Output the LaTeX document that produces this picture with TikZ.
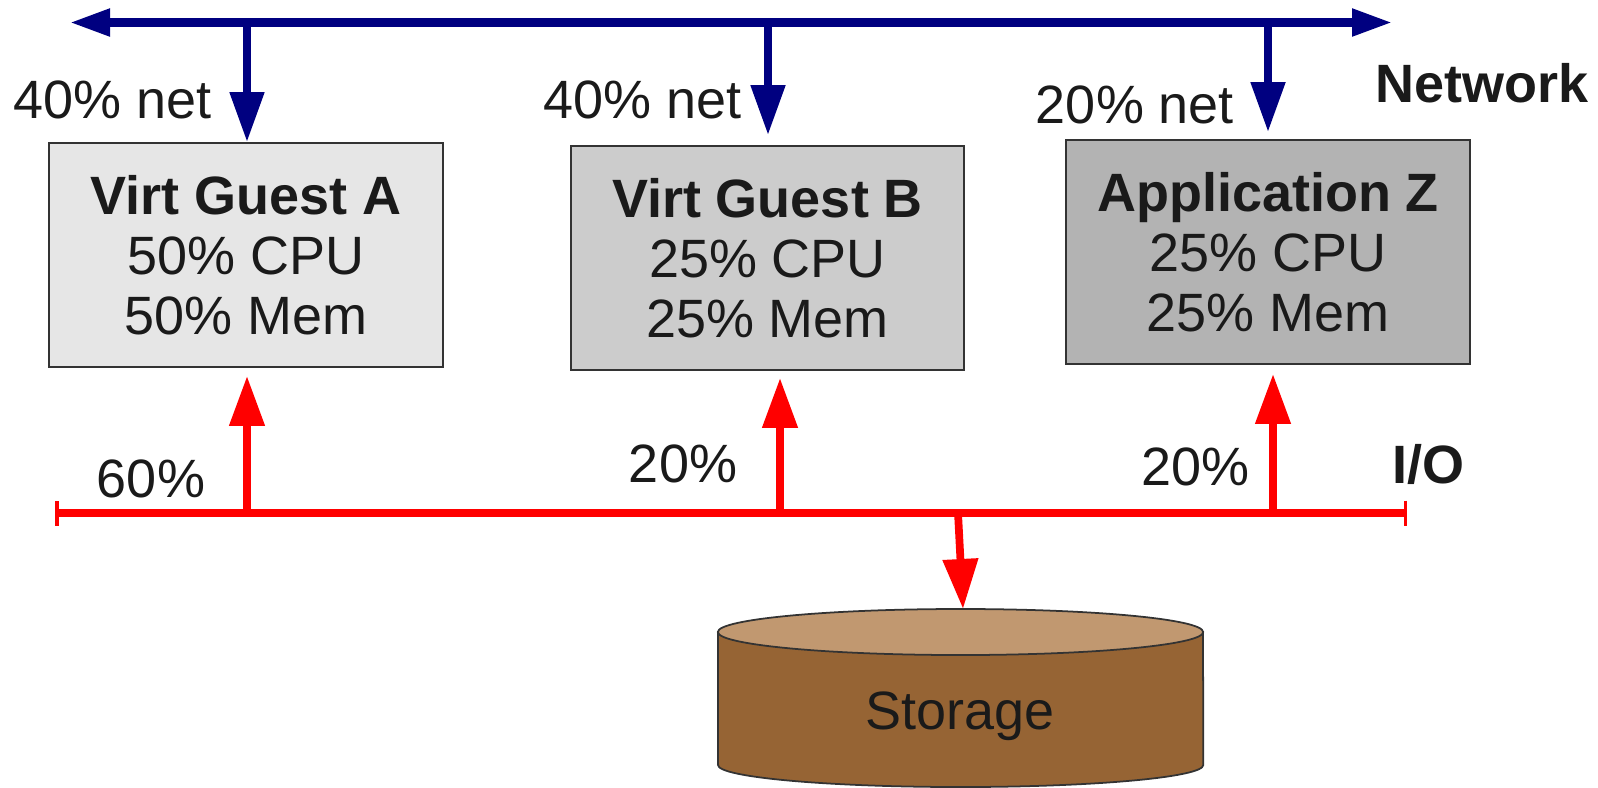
\documentclass[tikz,border=0pt]{standalone}
\usepackage{fontspec}
\setmainfont{Liberation Sans}
\usetikzlibrary{arrows.meta}

\definecolor{netblue}{RGB}{0,0,128}
\definecolor{iored}{RGB}{255,0,0}
\definecolor{txt}{RGB}{26,26,26}
\definecolor{boxa}{RGB}{230,230,230}
\definecolor{boxb}{RGB}{204,204,204}
\definecolor{boxz}{RGB}{179,179,179}
\definecolor{stgtop}{RGB}{193,152,112}
\definecolor{stgbody}{RGB}{150,100,52}

\tikzset{
  guest/.style={draw=black!80, line width=0.5pt, minimum height=2.24cm,
    align=center, text=txt, inner sep=0pt,
    font=\fontsize{15.35}{17.1}\selectfont},
  lbl/.style={text=txt, anchor=base, inner sep=0pt,
    font=\fontsize{15.35}{17.1}\selectfont},
  net/.style={draw=netblue, line width=2.3pt},
  netdrop/.style={net, -{Triangle[length=0.5cm,width=0.33cm]}},
  io/.style={draw=iored, line width=2.2pt},
  ioup/.style={io, -{Triangle[length=0.5cm,width=0.34cm]}},
}

\begin{document}
\begin{tikzpicture}[x=0.01cm,y=-0.01cm]
\useasboundingbox (0,0) rectangle (1598,787);

% network
\coordinate (nl) at (70,22.5);
\coordinate (nr) at (1392,22.5);
\coordinate (n1) at (247,22.5);
\coordinate (n2) at (768,22.5);
\coordinate (n3) at (1268,22.5);
\draw[net, {Triangle[length=0.4cm,width=0.26cm]}-{Triangle[length=0.4cm,width=0.26cm]}] (nl) -- (nr);

\node[guest, fill=boxa, minimum width=3.94cm] (ga) at (246,255)
  {\textbf{Virt Guest A}\\50\% CPU\\50\% Mem};
\node[guest, fill=boxb, minimum width=3.93cm] (gb) at (767.5,258)
  {\textbf{Virt Guest B}\\25\% CPU\\25\% Mem};
\node[guest, fill=boxz, minimum width=4.04cm] (gz) at (1268,252)
  {\textbf{Application Z}\\25\% CPU\\25\% Mem};

\draw[netdrop] (n1) -- (ga.north -| n1);
\draw[netdrop, shorten >=0.1cm] (n2) -- (gb.north -| n2);
\draw[netdrop, shorten >=0.07cm] (n3) -- (gz.north -| n3);

\node[lbl] (na) at (113,118) {40\% net};
\node[lbl] (nb) at (643,118) {40\% net};
\node[lbl] (nz) at (1135,123) {20\% net};
\node[lbl, font=\fontsize{15.35}{17.1}\selectfont\bfseries] (netw) at (1482,102) {Network};

% i/o
\coordinate (il) at (55,513);
\coordinate (ir) at (1407,513);
\coordinate (i1) at (247,513);
\coordinate (i2) at (780,513);
\coordinate (i3) at (1273,513);
\coordinate (i4) at (958,513);
\draw[io, {Bar[width=0.25cm,line width=1pt]}-{Bar[width=0.25cm,line width=1pt]}] (il) -- (ir);

\draw[ioup, shorten >=0.08cm] (i1) -- (ga.south -| i1);
\draw[ioup, shorten >=0.07cm] (i2) -- (gb.south -| i2);
\draw[ioup, shorten >=0.09cm] (i3) -- (gz.south -| i3);

\node[lbl] (ia) at (151,497) {60\%};
\node[lbl] (ib) at (683,482) {20\%};
\node[lbl] (iz) at (1195,485) {20\%};
\node[lbl, font=\fontsize{15.35}{17.1}\selectfont\bfseries] (iot) at (1428,483) {I/O};

% storage
\path[fill=stgbody, draw=black!80, line width=0.5pt] (718,632) -- (718,765)
  arc[start angle=180, end angle=360, x radius=2.425cm, y radius=0.22cm]
  -- (1203,632) -- cycle;
\draw[fill=stgtop, line width=0.5pt, draw=black!80] (960.5,632) ellipse [x radius=2.425cm, y radius=0.23cm];
\coordinate (st) at (963,609);
\node[lbl] (storage) at (960,729) {Storage};

\draw[ioup] (i4) -- (st);
\end{tikzpicture}
\end{document}
